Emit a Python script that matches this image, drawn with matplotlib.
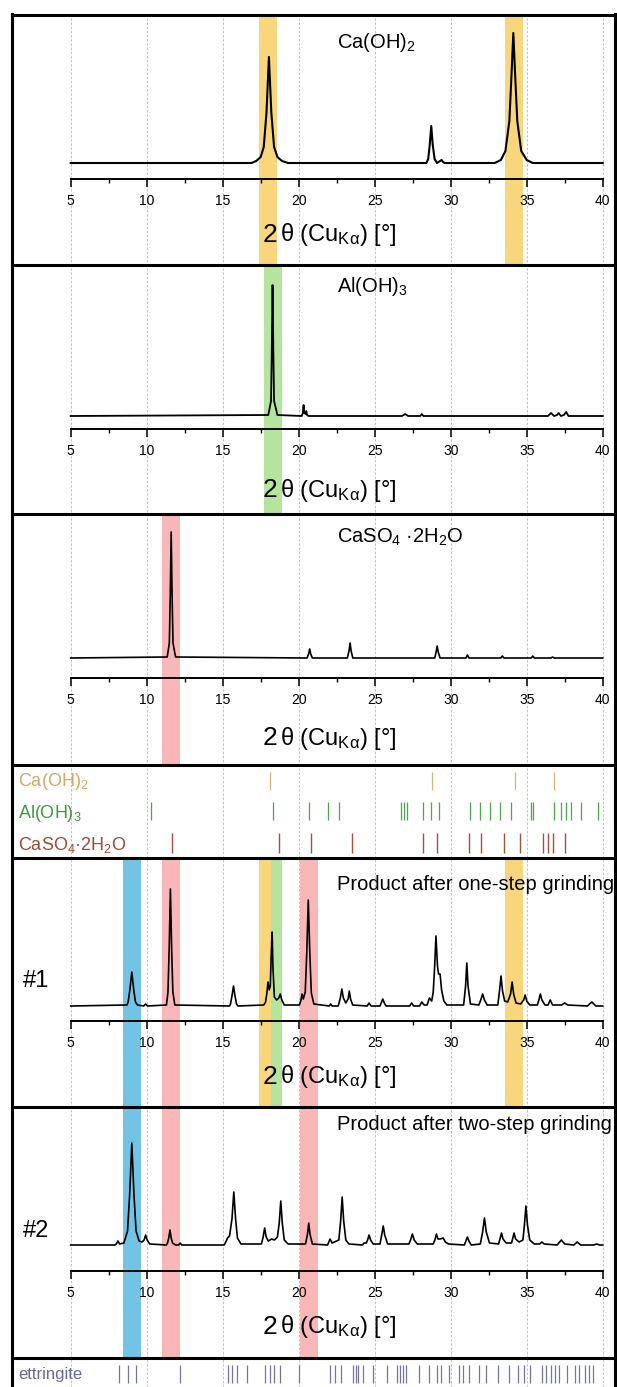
import matplotlib.pyplot as plt
from matplotlib.lines import Line2D

plt.rcParams['font.family'] = ['Liberation Sans', 'DejaVu Sans']
plt.rcParams['mathtext.fontset'] = 'custom'
plt.rcParams['mathtext.rm'] = 'Liberation Sans'
plt.rcParams['mathtext.default'] = 'regular'

# ---- data (2theta in deg, intensity in a.u.) ----
caoh2_x = [5, 16.9, 17.2, 17.5, 17.7, 17.88, 18.04, 18.2, 18.38, 18.6, 18.9, 19.3,
           28.4, 28.52, 28.62, 28.72, 28.82, 28.94, 29.1, 29.4, 29.5, 29.6,
           32.9, 33.3, 33.6, 33.86, 34.0, 34.12, 34.24, 34.38, 34.64, 35.0, 35.4, 40]
caoh2_y = [0, 0, 2, 6, 16, 50, 106, 50, 16, 6, 2, 0,
           0, 4, 18, 37, 18, 4, 0, 3, 1, 0,
           0, 3, 12, 42, 88, 130, 88, 42, 12, 3, 0, 0]

aloh3_x = [5, 18.0, 18.18, 18.23, 18.28, 18.33, 18.38, 18.6,
           20.2, 20.27, 20.32, 20.37, 20.45, 20.5, 20.55, 20.65,
           26.8, 27.0, 27.2, 28.0, 28.1, 28.2,
           36.4, 36.6, 36.8, 37.0, 37.1, 37.25, 37.45, 37.6, 37.75, 40]
aloh3_y = [0, 1, 15, 66, 131, 66, 15, 1,
           0, 3, 11, 3, 2, 5, 1, 0,
           0, 2, 0, 0, 2, 0,
           0, 3, 0, 1, 3, 0, 1, 4, 0, 0]

gyps_x = [5, 11.35, 11.49, 11.55, 11.61, 11.67, 11.73, 11.9,
          20.55, 20.65, 20.72, 20.79, 20.9,
          23.2, 23.31, 23.38, 23.45, 23.56,
          28.95, 29.04, 29.11, 29.18, 29.3,
          31.0, 31.1, 31.2, 33.3, 33.4, 33.5, 35.3, 35.4, 35.5,
          36.6, 36.7, 36.8, 40]
gyps_y = [0, 1, 15, 63, 126, 63, 15, 1,
          0, 4, 9, 4, 0,
          0, 7, 15, 7, 0,
          0, 6, 12, 6, 0,
          0, 3, 0, 0, 2, 0, 0, 2, 0,
          0, 1, 0, 0]

p1_x = [5, 8.7, 8.78, 8.9, 9.02, 9.14, 9.26, 9.4, 9.8, 9.93, 10.06,
        11.3, 11.4, 11.48, 11.56, 11.64, 11.72, 11.85,
        15.45, 15.51, 15.61, 15.71, 15.81, 15.91, 16.0,
        17.7, 17.82, 17.9, 17.98, 18.06, 18.13, 18.19, 18.25, 18.31, 18.4,
        18.55, 18.69, 18.79, 18.89, 19.05,
        20.05, 20.15, 20.22, 20.3, 20.43, 20.53, 20.63, 20.73, 20.83, 21.0,
        22.0, 22.1, 22.2,
        22.6, 22.74, 22.84, 22.94, 23.1, 23.25, 23.33, 23.41, 23.55,
        24.5, 24.63, 24.76, 25.35, 25.43, 25.53, 25.63, 25.75,
        27.3, 27.43, 27.56, 27.95, 28.1, 28.25,
        28.45, 28.6, 28.75, 28.85, 28.93, 29.03, 29.13, 29.2, 29.3, 29.4,
        29.55, 29.75,
        30.85, 30.98, 31.06, 31.14, 31.3,
        31.85, 31.98, 32.1, 32.22, 32.4,
        33.1, 33.21, 33.31, 33.41, 33.55, 33.75, 33.94, 34.04, 34.14, 34.3,
        34.6, 34.8, 34.9, 35.0, 35.2,
        35.7, 35.8, 35.9, 36.0, 36.2, 36.4, 36.55, 36.7,
        37.3, 37.5, 37.7, 39.0, 39.28, 39.55, 40]
p1_y = [0, 1, 4, 17, 34, 17, 4, 1, 0, 2, 0,
        1, 14, 58, 117, 58, 14, 1,
        0, 2, 10, 20, 10, 2, 0,
        1, 4, 12, 24, 16, 20, 50, 74, 37, 9,
        6, 8, 12, 6, 1,
        1, 6, 12, 7, 14, 53, 106, 53, 13, 2,
        0, 2, 0,
        0, 8, 17, 8, 3, 7, 15, 7, 1,
        0, 3, 0, 0, 3, 7, 3, 0,
        0, 3, 0, 0, 4, 1,
        1, 8, 5, 14, 35, 70, 40, 32, 32, 16,
        5, 1,
        1, 20, 43, 20, 2,
        1, 6, 12, 6, 1,
        1, 15, 30, 15, 5, 4, 12, 24, 12, 3,
        2, 6, 11, 5, 1,
        1, 6, 12, 6, 1, 1, 6, 1,
        1, 3, 1, 0, 4, 0, 0]

p2_x = [5, 7.9, 8.0, 8.11, 8.22, 8.5, 8.74, 8.88, 9.02, 9.16, 9.3, 9.5,
        9.7, 9.83, 9.93, 10.03, 10.2,
        11.3, 11.37, 11.45, 11.53, 11.61, 11.7, 11.9, 12.1, 12.2, 12.3,
        15.1, 15.2, 15.32, 15.45, 15.61, 15.73, 15.85, 15.97, 16.2,
        17.55, 17.66, 17.76, 17.86, 18.0, 18.22, 18.4, 18.6, 18.72, 18.82,
        18.92, 19.05, 19.3,
        20.45, 20.58, 20.66, 20.74, 20.9,
        21.9, 22.06, 22.2, 22.64, 22.76, 22.86, 22.96, 23.1, 23.3,
        24.2, 24.3, 24.45, 24.53, 24.63, 24.73, 24.9,
        25.35, 25.46, 25.56, 25.66, 25.85,
        27.25, 27.36, 27.48, 27.6, 27.8,
        28.85, 28.96, 29.06, 29.16, 29.3, 29.5, 29.65, 29.85,
        30.9, 31.0, 31.1, 31.2, 31.35,
        31.95, 32.1, 32.22, 32.34, 32.55,
        33.15, 33.24, 33.34, 33.44, 33.65, 34.0, 34.07, 34.17, 34.27, 34.5,
        34.75, 34.85, 34.95, 35.05, 35.2, 35.5,
        35.85, 36.0, 36.15, 37.0, 37.28, 37.5, 38.1, 38.32, 38.55,
        39.4, 39.6, 39.8, 40]
p2_y = [0, 0, 1, 4, 1, 2, 14, 51, 102, 51, 14, 4,
        3, 5, 10, 5, 1,
        0, 2, 7, 15, 7, 2, 0, 0, 2, 0,
        0, 3, 7, 9, 26, 53, 26, 7, 1,
        1, 8, 17, 8, 4, 6, 5, 8, 22, 44,
        22, 5, 1,
        1, 11, 22, 11, 1,
        0, 6, 2, 5, 24, 48, 24, 5, 1,
        0, 2, 2, 5, 10, 5, 1,
        1, 10, 19, 10, 1,
        1, 5, 11, 5, 1,
        1, 5, 11, 6, 6, 7, 3, 1,
        0, 4, 8, 4, 0,
        1, 13, 27, 13, 2,
        1, 6, 12, 6, 2, 2, 6, 12, 6, 3,
        5, 20, 39, 20, 5, 1,
        1, 3, 1, 0, 5, 1, 0, 3, 0,
        0, 1, 0, 0]

# reference stick patterns
caoh2_sticks = [18.12, 28.77, 34.22, 36.81]
aloh3_sticks = [10.26, 18.30, 20.69, 21.93, 22.63, 26.70, 26.91, 27.12, 28.20,
                28.72, 29.24, 31.26, 31.91, 32.61, 33.26, 33.96, 35.26, 35.39,
                36.81, 37.28, 37.59, 37.93, 38.57, 39.69]
gyps_sticks = [11.66, 18.69, 20.82, 23.49, 28.20, 29.11, 31.19, 32.02, 33.52,
               34.56, 36.06, 36.42, 36.76, 37.54]
ettr_sticks = [8.15, 8.75, 9.3, 12.2, 15.32, 15.63, 15.94, 16.59, 17.78, 18.09,
               18.40, 18.79, 20.04, 22.06, 22.37, 22.81, 23.59, 23.75, 23.93,
               24.26, 24.91, 25.82, 26.47, 26.65, 26.86, 27.04, 27.89, 28.59,
               29.11, 29.37, 29.89, 30.54, 30.80, 31.19, 31.83, 32.35, 33.13,
               33.83, 34.43, 34.82, 35.2, 35.98, 36.29, 36.58, 36.89, 37.15,
               37.67, 38.19, 38.45, 38.84, 39.09, 39.35]

# highlighted regions (start, end, colour) per panel
yellow, green, pink, blue = '#F8D67C', '#B4E49E', '#F9B7B7', '#73C4E4'
bands_caoh2 = [(17.4, 18.6, yellow), (33.55, 34.75, yellow)]
bands_aloh3 = [(17.7, 18.9, green)]
bands_gyps = [(11.0, 12.2, pink)]
bands_p1 = [(8.45, 9.6, blue), (11.0, 12.2, pink), (17.4, 18.17, yellow),
            (18.17, 18.9, green), (20.1, 21.3, pink), (33.55, 34.75, yellow)]
bands_p2 = [(8.45, 9.6, blue), (11.0, 12.2, pink), (20.1, 21.3, pink)]

# ---- layout (pixels of the 617 x 1387 picture) ----
W, H = 617, 1387
LEFT, RIGHT = 12, 616
X0 = 5 - (70.7 - LEFT) / 15.2
X1 = X0 + (RIGHT - LEFT) / 15.2

fig = plt.figure(figsize=(W / 100, H / 100), dpi=100)
fig.patch.set_facecolor('white')

# background grid across the whole frame
bg = fig.add_axes([LEFT / W, 0, (RIGHT - LEFT) / W, 1 - 15 / H])
bg.set_xlim(X0, X1)
bg.set_xticks(range(5, 41, 5))
bg.grid(axis='x', color='#b8b8b8', linestyle=(0, (3, 2)), linewidth=0.6)
bg.tick_params(length=0, labelbottom=False, labelleft=False)
bg.set_yticks([])
for s in bg.spines.values():
    s.set_visible(False)
bg.set_zorder(0)


def spectrum_panel(top, bottom, base, axis_y, xlab_y, title_y, x, y, title,
                   bands, lw=1.1, tag=None, tag_y=None):
    ax = fig.add_axes([LEFT / W, 1 - bottom / H, (RIGHT - LEFT) / W,
                       (bottom - top) / H])
    ax.set_zorder(1)
    ax.patch.set_alpha(0)
    ax.set_xlim(X0, X1)
    ax.set_ylim(base - bottom, base - top)
    for a, b, c in bands:
        ax.axvspan(a, b, color=c, lw=0, zorder=0)
    ax.plot(x, y, color='black', lw=lw, zorder=3)
    for s in ['left', 'right', 'top']:
        ax.spines[s].set_visible(False)
    ax.spines['bottom'].set_position(('data', base - axis_y))
    ax.spines['bottom'].set_bounds(5, 40)
    ax.spines['bottom'].set_linewidth(1.4)
    ax.set_yticks([])
    ax.set_xticks(range(5, 41, 5))
    ax.set_xticks([7.5 + 5 * i for i in range(7)], minor=True)
    ax.tick_params(axis='x', which='major', direction='out', length=5.8,
                   width=1.1, pad=5.0, labelsize=10)
    ax.tick_params(axis='x', which='minor', direction='out', length=3,
                   width=1.0)
    ax.text(17.6, base - xlab_y, '2', fontsize=19, ha='left', va='center')
    ax.text(18.75, base - xlab_y, 'θ (Cu$_{Kα}$) [°]', fontsize=17,
            ha='left', va='center')
    ax.text(22.5, base - title_y, title, fontsize=14.5, ha='left', va='center')
    if tag:
        ax.text(1.86, base - tag_y, tag, fontsize=17, ha='left', va='center')
    return ax


spectrum_panel(15, 265, 163, 179, 235, 43, caoh2_x, caoh2_y,
               'Ca(OH)$_2$', bands_caoh2, lw=1.5)
spectrum_panel(265, 514, 416, 429, 490, 287, aloh3_x, aloh3_y,
               'Al(OH)$_3$', bands_aloh3, lw=1.3)
spectrum_panel(514, 765, 658, 678, 738, 537, gyps_x, gyps_y,
               'CaSO$_4$ ·2H$_2$O', bands_gyps, lw=1.2)
spectrum_panel(858, 1107, 1006, 1021, 1077, 885, p1_x, p1_y,
               'Product after one-step grinding', bands_p1, lw=1.2,
               tag='#1', tag_y=981)
spectrum_panel(1107, 1358, 1245, 1271, 1327, 1125, p2_x, p2_y,
               'Product after two-step grinding', bands_p2, lw=1.2,
               tag='#2', tag_y=1231)

# reference stick panel
ref = fig.add_axes([LEFT / W, 1 - 858 / H, (RIGHT - LEFT) / W, (858 - 765) / H])
ref.set_zorder(1)
ref.set_xlim(X0, X1)
ref.set_ylim(858, 765)
ref.axis('off')
ref.vlines(caoh2_sticks, 772, 790, color='#D9B27A', lw=0.9)
ref.vlines(aloh3_sticks, 802, 820, color='#4CA64C', lw=0.9)
ref.vlines(gyps_sticks, 833, 853, color='#A5503A', lw=1.0)
ref.text(1.53, 782, 'Ca(OH)$_2$', color='#D4A866', fontsize=13, va='center')
ref.text(1.53, 814, 'Al(OH)$_3$', color='#3E9A3E', fontsize=13, va='center')
ref.text(1.53, 845, 'CaSO$_4$·2H$_2$O', color='#9E4A35', fontsize=13,
         va='center')

ett = fig.add_axes([LEFT / W, 0, (RIGHT - LEFT) / W, (H - 1358) / H])
ett.set_zorder(1)
ett.set_xlim(X0, X1)
ett.set_ylim(H, 1358)
ett.axis('off')
ett.vlines(ettr_sticks, 1365, 1383, color='#7474A8', lw=0.9)
ett.text(1.53, 1374, 'ettringite', color='#6A6A9A', fontsize=12, va='center')

# frame and separators


def fx(px):
    return px / W


def fy(py):
    return 1 - py / H


frame = dict(transform=fig.transFigure, color='black', lw=2.2, zorder=5)
fig.add_artist(Line2D([fx(LEFT), fx(LEFT)], [fy(14), fy(H)], **frame))
fig.add_artist(Line2D([fx(RIGHT - 1), fx(RIGHT - 1)], [fy(14), fy(H)], **frame))
for py in [15, 265, 514, 765, 858, 1107, 1358]:
    fig.add_artist(Line2D([fx(LEFT), fx(W)], [fy(py), fy(py)], **frame))

fig.savefig('out.png', dpi=100)
